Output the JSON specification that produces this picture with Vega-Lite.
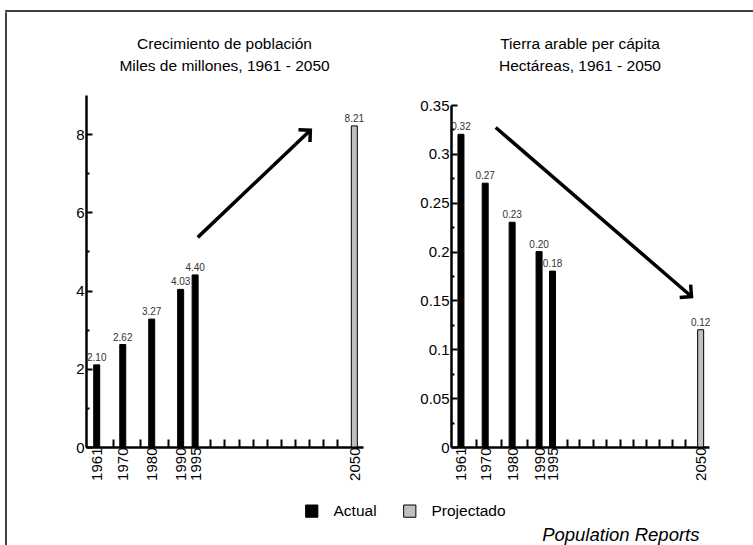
{
  "$schema": "https://vega.github.io/schema/vega-lite/v6.json",
  "padding": {"left": 5, "top": 10, "right": 0, "bottom": 0},
  "background": "white",
  "config": {
    "font": "Liberation Sans",
    "view": {"stroke": null},
    "axis": {"labelFont": "Liberation Sans", "labelFontSize": 15, "labelColor": "black", "domainColor": "black", "tickColor": "black", "grid": false, "title": null, "labelOverlap": false},
    "title": {"font": "Liberation Sans", "fontSize": 15.5, "fontWeight": "normal", "lineHeight": 22, "color": "black"},
    "legend": {"labelFont": "Liberation Sans", "labelFontSize": 15.5, "labelColor": "black"}
  },
  "datasets": {
    "pop": [
      {"year": 1961, "value": 2.10, "type": "Actual"},
      {"year": 1970, "value": 2.62, "type": "Actual"},
      {"year": 1980, "value": 3.27, "type": "Actual"},
      {"year": 1990, "value": 4.03, "type": "Actual"},
      {"year": 1995, "value": 4.40, "type": "Actual"},
      {"year": 2050, "value": 8.21, "type": "Projectado"}
    ],
    "land": [
      {"year": 1961, "value": 0.32, "type": "Actual"},
      {"year": 1970, "value": 0.27, "type": "Actual"},
      {"year": 1980, "value": 0.23, "type": "Actual"},
      {"year": 1990, "value": 0.20, "type": "Actual"},
      {"year": 1995, "value": 0.18, "type": "Actual"},
      {"year": 2050, "value": 0.12, "type": "Projectado"}
    ],
    "popArrow": [{"x": 1995.9, "y": 5.36, "x2": 2034.8, "y2": 8.1}],
    "landArrow": [{"x": 1973.9, "y": 0.327, "x2": 2046.6, "y2": 0.154}],
    "none": []
  },
  "vconcat": [
    {
      "width": 748, "height": 0.001,
      "view": {"stroke": "black", "strokeWidth": 1.5},
      "data": {"name": "none"},
      "mark": {"type": "point"},
      "encoding": {}
    },
    {
      "hconcat": [
        {
          "width": 0.001, "height": 535,
          "view": {"stroke": "black", "strokeWidth": 1.5},
          "data": {"name": "none"},
          "mark": {"type": "point"},
          "encoding": {}
        },
        {
          "columns": 2,
          "align": "each",
          "spacing": {"row": 20, "column": 54},
          "concat": [
            {
              "width": 277, "height": 0.001,
              "title": {"text": ["Crecimiento de población", "Miles de millones, 1961 - 2050"], "orient": "bottom", "anchor": "middle", "offset": 24},
              "data": {"name": "none"},
              "mark": {"type": "point"},
              "encoding": {}
            },
            {
              "width": 258, "height": 0.001,
              "title": {"text": ["Tierra arable per cápita", "Hectáreas, 1961 - 2050"], "orient": "bottom", "anchor": "middle", "offset": 24},
              "data": {"name": "none"},
              "mark": {"type": "point"},
              "encoding": {}
            },
            {
              "width": 277, "height": 352,
              "data": {"name": "pop"},
              "encoding": {
                "x": {"field": "year", "type": "quantitative",
                  "scale": {"domain": [1957.3, 2053], "nice": false, "zero": false, "padding": 0},
                  "axis": {"values": [1961, 1966.5, 1970, 1975.8, 1980, 1985.6, 1990, 1995, 2000.3, 2005, 2010, 2014.9, 2019.9, 2024.8, 2029.6, 2034.4, 2039.3, 2044.1, 2050],
                    "labelExpr": "indexof([1961,1970,1980,1990,1995,2050], datum.value) >= 0 ? '' + datum.value : ''",
                    "labelAngle": -90, "labelAlign": "right", "labelBaseline": "middle", "labelPadding": 8,
                    "tickSize": -8, "tickWidth": 2, "domainWidth": 2.5}},
                "y": {"field": "value", "type": "quantitative",
                  "scale": {"domain": [0, 9], "nice": false},
                  "axis": {"values": [0, 1, 2, 3, 4, 5, 6, 7, 8],
                    "labelExpr": "datum.value % 2 == 0 ? '' + datum.value : ''",
                    "tickSize": {"condition": {"test": "datum.value % 2 == 0", "value": -6}, "value": -3},
                    "tickWidth": 2, "domainWidth": 2.5, "labelPadding": 8}}
              },
              "layer": [
                {
                  "mark": {"type": "bar", "width": 6, "stroke": "black", "strokeWidth": 1},
                  "encoding": {
                    "color": {"field": "type", "type": "nominal",
                      "scale": {"domain": ["Actual", "Projectado"], "range": ["#000000", "#c0c0c0"]},
                      "legend": {"title": null, "orient": "none", "legendX": 298, "legendY": 492, "direction": "horizontal",
                        "symbolType": "square", "symbolSize": 150, "symbolStrokeColor": "black", "symbolStrokeWidth": 1, "symbolOpacity": 1,
                        "labelOffset": 14, "columnPadding": 24}}
                  }
                },
                {
                  "mark": {"type": "text", "dy": -7, "fontSize": 10, "color": "#333333", "font": "Liberation Sans"},
                  "encoding": {"text": {"field": "value", "type": "quantitative", "format": ".2f"}}
                },
                {
                  "data": {"name": "popArrow"},
                  "mark": {"type": "rule", "strokeWidth": 3.5, "color": "black"},
                  "encoding": {"x": {"field": "x", "type": "quantitative"}, "y": {"field": "y", "type": "quantitative"},
                    "x2": {"field": "x2"}, "y2": {"field": "y2"}}
                },
                {
                  "data": {"name": "popArrow"},
                  "mark": {"type": "point", "shape": "M-0.75,0.75L0,0L0.75,0.75", "size": 500, "filled": false, "stroke": "black", "strokeWidth": 3.5, "angle": 46.6, "opacity": 1},
                  "encoding": {"x": {"field": "x2", "type": "quantitative"}, "y": {"field": "y2", "type": "quantitative"}}
                }
              ]
            },
            {
              "width": 258, "height": 352,
              "data": {"name": "land"},
              "encoding": {
                "x": {"field": "year", "type": "quantitative",
                  "scale": {"domain": [1957.3, 2053.1], "nice": false, "zero": false, "padding": 0},
                  "axis": {"values": [1961, 1966.5, 1970, 1975.8, 1980, 1985.6, 1990, 1995, 2000.3, 2005, 2010, 2014.9, 2019.9, 2024.8, 2029.6, 2034.4, 2039.3, 2044.1, 2050],
                    "labelExpr": "indexof([1961,1970,1980,1990,1995,2050], datum.value) >= 0 ? '' + datum.value : ''",
                    "labelAngle": -90, "labelAlign": "right", "labelBaseline": "middle", "labelPadding": 8,
                    "tickSize": -8, "tickWidth": 2, "domainWidth": 2.5,
                    "title": "Population Reports", "titleFont": "Liberation Sans", "titleFontSize": 18.5, "titleFontStyle": "italic", "titleFontWeight": "normal",
                    "titleAlign": "right", "titleBaseline": "bottom", "titleX": 248, "titleY": 97, "titleColor": "black"}},
                "y": {"field": "value", "type": "quantitative",
                  "scale": {"domain": [0, 0.35], "nice": false, "range": [352, 10]},
                  "axis": {"values": [0, 0.025, 0.05, 0.075, 0.1, 0.125, 0.15, 0.175, 0.2, 0.225, 0.25, 0.275, 0.3, 0.325, 0.35],
                    "labelExpr": "round(datum.value * 1000) % 50 == 0 ? '' + round(datum.value * 100) / 100 : ''",
                    "tickSize": {"condition": {"test": "round(datum.value * 1000) % 50 == 0", "value": -6}, "value": -3},
                    "tickWidth": 2, "domainWidth": 2.5, "labelPadding": 8}}
              },
              "layer": [
                {
                  "mark": {"type": "bar", "width": 6, "stroke": "black", "strokeWidth": 1},
                  "encoding": {
                    "color": {"field": "type", "type": "nominal",
                      "scale": {"domain": ["Actual", "Projectado"], "range": ["#000000", "#c0c0c0"]},
                      "legend": {"title": null, "orient": "none", "legendX": 298, "legendY": 492, "direction": "horizontal",
                        "symbolType": "square", "symbolSize": 150, "symbolStrokeColor": "black", "symbolStrokeWidth": 1, "symbolOpacity": 1,
                        "labelOffset": 14, "columnPadding": 24}}
                  }
                },
                {
                  "mark": {"type": "text", "dy": -7, "fontSize": 10, "color": "#333333", "font": "Liberation Sans"},
                  "encoding": {"text": {"field": "value", "type": "quantitative", "format": ".2f"}}
                },
                {
                  "data": {"name": "landArrow"},
                  "mark": {"type": "rule", "strokeWidth": 3.5, "color": "black"},
                  "encoding": {"x": {"field": "x", "type": "quantitative"}, "y": {"field": "y", "type": "quantitative"},
                    "x2": {"field": "x2"}, "y2": {"field": "y2"}}
                },
                {
                  "data": {"name": "landArrow"},
                  "mark": {"type": "point", "shape": "M-0.75,0.75L0,0L0.75,0.75", "size": 500, "filled": false, "stroke": "black", "strokeWidth": 3.5, "angle": 130.8, "opacity": 1},
                  "encoding": {"x": {"field": "x2", "type": "quantitative"}, "y": {"field": "y2", "type": "quantitative"}}
                }
              ]
            }
          ],
          "resolve": {"scale": {"x": "independent", "y": "independent", "color": "shared"}}
        }
      ],
      "spacing": 68
    }
  ],
  "spacing": 0
}
